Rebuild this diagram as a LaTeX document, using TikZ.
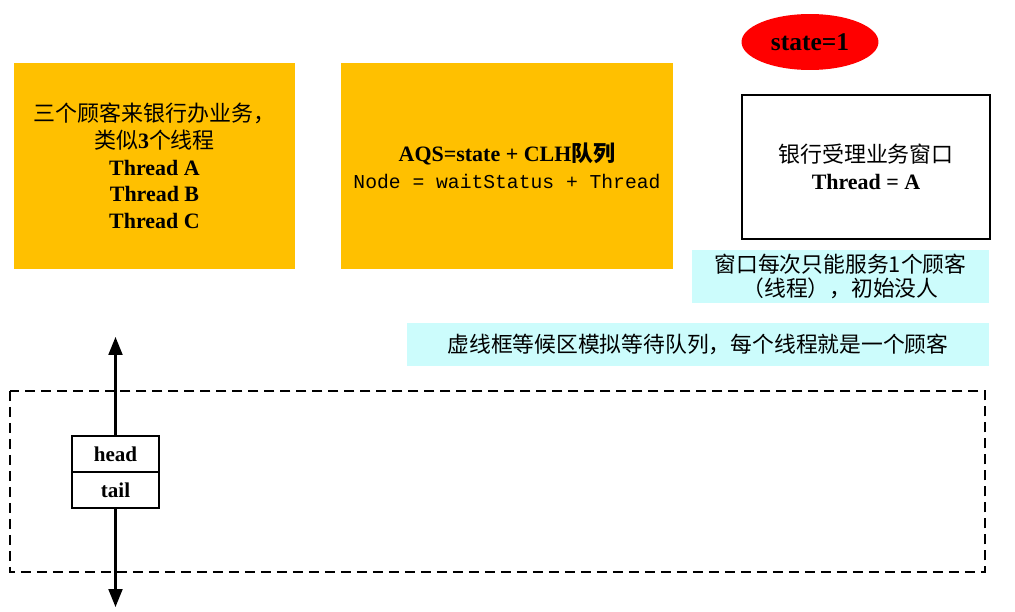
\documentclass[tikz,border=0pt]{standalone}
\usepackage{fontspec}
\setmainfont{Liberation Serif}
\newfontfamily\cjk{Noto Sans CJK SC}
\newfontfamily\mono{Liberation Mono}
\usepackage{tikz}
\usetikzlibrary{
    shapes.geometric,
    arrows.meta,
    positioning
}
\definecolor{Borange}{RGB}{255, 192, 0}
\definecolor{Bcyan}{RGB}{204, 252, 252}
\definecolor{Bred}{RGB}{255, 0, 0}
\tikzset{
    bpanel/.style={
        rectangle, fill=Borange, text=black, minimum width=5.62cm, minimum height=4.12cm,
        align=center, font=\fontsize{12.5}{15.2}\selectfont, inner sep=4pt
    },
    bnote/.style={
        rectangle, fill=Bcyan, text=black, minimum height=0.86cm,
        align=center, font=\fontsize{12.4}{13.8}\selectfont\cjk, inner sep=2pt
    },
    bcell/.style={
        rectangle, draw=black, line width=1.1pt, fill=white, minimum width=1.74cm,
        minimum height=0.72cm, font=\fontsize{12}{14}\selectfont\bfseries, inner sep=2pt,
        outer sep=0pt
    },
    barr/.style={-{Triangle[length=0.36cm, width=0.28cm]}, line width=1.2pt, black},
}

\begin{document}
\begin{tikzpicture}[x=0.02cm, y=-0.02cm]
    \useasboundingbox (0,0) rectangle (1015,612);

    \node [bpanel] (customers) at (154.5,166)
        {{\cjk 三个顾客来银行办业务，}\\ {\cjk 类似}\textbf{3}{\cjk 个线程}\\
         \textbf{Thread A}\\ \textbf{Thread B}\\ \textbf{Thread C}};
    \node [bpanel, minimum width=6.64cm] (aqs) at (507,166)
        {\textbf{AQS=state + CLH}{\cjk\bfseries 队列}\\ {\mono\fontsize{11.2}{15.2}\selectfont Node = waitStatus + Thread}};

    \node [ellipse, fill=Bred, minimum width=2.74cm, minimum height=1.12cm,
        font=\fontsize{14.5}{16}\selectfont\bfseries] (state) at (810,42) {state=1};
    \node [rectangle, draw=black, line width=1.1pt, fill=white, minimum width=4.96cm,
        minimum height=2.88cm, align=center, font=\fontsize{12.5}{15}\selectfont]
        (window) at (866,167) {{\cjk 银行受理业务窗口}\\ \textbf{Thread = A}};

    \node [bnote, minimum width=5.94cm] (winnote) at (840.5,276.5)
        {窗口每次只能服务1个顾客\\（线程），初始没人};
    \node [bnote, minimum width=11.64cm] (queuenote) at (698,344.5)
        {虚线框等候区模拟等待队列，每个线程就是一个顾客};

    % waiting area
    \draw [dashed, dash pattern=on 0.2cm off 0.12cm, line width=0.7pt] (10,391) rectangle (985,572);

    \node [bcell] (head) at (115.5,454) {head};
    \node [bcell, below=0pt of head] (tail) {tail};

    \coordinate (up) at (115.5,337);
    \coordinate (down) at (115.5,607);
    \draw [barr] (head.north) -- (up);
    \draw [barr] (tail.south) -- (down);

\end{tikzpicture}
\end{document}
